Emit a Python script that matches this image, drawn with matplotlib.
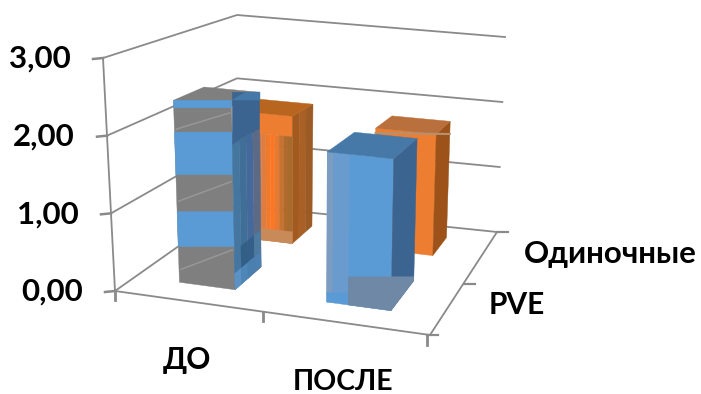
import matplotlib
matplotlib.use("Agg")
import matplotlib.pyplot as plt
import numpy as np
from matplotlib.patches import Polygon

plt.rcParams['font.family'] = ['Lato', 'DejaVu Sans']

categories = ['ДО', 'ПОСЛЕ']
series = ['PVE', 'Одиночные']
pve_values = [2.4, 1.93]
single_values = [1.85, 1.75]
value_ticks = [0, 1, 2, 3]
value_labels = ['0,00', '1,00', '2,00', '3,00']

# corners of the plot box: floor and ceiling, in figure pixels
FLOOR = {'fl': (115, 291), 'fr': (430, 335), 'bl': (237, 205), 'br': (497, 232)}
CEIL = {'fl': (103, 58), 'fr': (437, 88), 'bl': (237, 15), 'br': (505, 37)}
VMAX = 3.0

GRID = '#8a8a8a'
BLUE = '#5b9bd5'
BLUE_DARK = '#3b6590'
BLUE_TOP = '#4679a8'
ORANGE = '#ed7d31'
ORANGE_DARK = '#9c5219'
ORANGE_TOP = '#b8651f'
GRAY = '#7f7f7f'


def pt(u, v, val):
    # trilinear position inside the box
    t = val / VMAX
    res = []
    for k in range(2):
        lo = (1 - v) * ((1 - u) * FLOOR['fl'][k] + u * FLOOR['fr'][k]) + v * ((1 - u) * FLOOR['bl'][k] + u * FLOOR['br'][k])
        hi = (1 - v) * ((1 - u) * CEIL['fl'][k] + u * CEIL['fr'][k]) + v * ((1 - u) * CEIL['bl'][k] + u * CEIL['br'][k])
        res.append((1 - t) * lo + t * hi)
    return tuple(res)


def face(ax, pts, color, alpha=1.0, z=3):
    ax.add_patch(Polygon(pts, closed=True, facecolor=color, edgecolor=color, lw=0.3, alpha=alpha, zorder=z))


def front_band(ax, u0, u1, v, a, b, color, z=3, flat=True, alpha=1.0):
    # horizontal slice of a front face between two values
    p0, p1 = pt(u0, v, a), pt(u1, v, a)
    p2, p3 = pt(u1, v, b), pt(u0, v, b)
    if flat:
        p1 = (p1[0], p0[1])
        p2 = (p2[0], p3[1])
    face(ax, [p0, p1, p2, p3], color, alpha, z)


def side_strips(ax, u, v0, v1, a, b, colors, z=3):
    # side face built out of vertical strips of different tone
    n = len(colors)
    for i, c in enumerate(colors):
        va = v0 + (v1 - v0) * i / n
        vb = v0 + (v1 - v0) * (i + 1) / n
        face(ax, [pt(u, va, a), pt(u, vb, a), pt(u, vb, b), pt(u, va, b)], c, 1.0, z)


fig = plt.figure(figsize=(7.01, 3.94), dpi=100)
ax = fig.add_axes([0, 0, 1, 1])
ax.set_xlim(0, 701)
ax.set_ylim(394, 0)
ax.axis('off')

# walls and floor
for val in value_ticks:
    a, b, c = pt(0, 0, val), pt(0, 1, val), pt(1, 1, val)
    ax.plot([a[0], b[0], c[0]], [a[1], b[1], c[1]], color=GRID, lw=1.3, zorder=1, solid_joinstyle='miter')
    ax.plot([a[0] - 10, a[0]], [a[1] + 1, a[1]], color=GRID, lw=1.8, zorder=1)
    ax.text(a[0] - 32, a[1] + 1, value_labels[val], ha='right', va='center',
            fontsize=22.5, fontweight='bold', color='black')

p0, p3 = pt(0, 0, 0), pt(0, 0, 3)
ax.plot([p0[0], p3[0]], [p0[1], p3[1]], color=GRID, lw=1.3, zorder=1)
ax.plot([p0[0], p0[0]], [p0[1], p0[1] + 9], color=GRID, lw=2, zorder=1)

fr, br = pt(1, 0, 0), pt(1, 1, 0)
ax.plot([p0[0], fr[0]], [p0[1], fr[1]], color=GRID, lw=1.3, zorder=1)
ax.plot([fr[0], br[0]], [fr[1], br[1]], color=GRID, lw=1.3, zorder=1)
ax.plot([fr[0] - 3, fr[0] - 3], [fr[1], fr[1] + 10], color=GRID, lw=2, zorder=1)
ax.plot([fr[0] - 3, fr[0] + 8], [fr[1], fr[1]], color=GRID, lw=1.6, zorder=1)
ax.plot([br[0], br[0] + 11], [br[1], br[1]], color=GRID, lw=1.6, zorder=1)
mid = pt(0.47, 0, 0)
ax.plot([mid[0], mid[0]], [mid[1], mid[1] + 9], color=GRID, lw=2, zorder=1)
dep = pt(1, 0.5, 0)
ax.plot([dep[0], dep[0] + 11], [dep[1], dep[1]], color=GRID, lw=1.6, zorder=1)

# back row, before
h = single_values[0]
u0, u1, v0, v1 = 0.14, 0.34, 0.68, 0.87
face(ax, [pt(u0, v0, 1.55), pt(u1, v0, 1.55), pt(u1, v0, h), pt(u0, v0, h)], ORANGE, z=2)
side_strips(ax, u1, v0, v1, 0, h, ['#a35a1f', '#a86026', '#9c5a24'], z=2)
face(ax, [pt(u0, v0, h), pt(u1, v0, h), pt(u1, v1, h), pt(u0, v1, h)], ORANGE_TOP, z=2)
strip_cols = ['#c07a55', '#dd7d42', '#f07a2c', '#fb7724', '#e67a32', '#c8722f', '#b06a2b', '#a96a2e']
for i, c in enumerate(strip_cols):
    ua = 0.215 + (u1 - 0.215) * i / len(strip_cols)
    ub = 0.215 + (u1 - 0.215) * (i + 1) / len(strip_cols)
    front_band(ax, ua, ub, v0, 0, 1.55, c, z=2, flat=False)
front_band(ax, 0.215, u1, v0, 0, 0.17, '#c98a5a', z=2, flat=False)

# back row, after
h = single_values[1]
u0, u1, v0, v1 = 0.62, 0.835, 0.72, 0.90
face(ax, [pt(u0, v0, 0), pt(u1, v0, 0), pt(u1, v0, h), pt(u0, v0, h)], ORANGE, z=2)
face(ax, [pt(u1, v0, 0), pt(u1, v1, 0), pt(u1, v1, h), pt(u1, v0, h)], ORANGE_DARK, z=2)
face(ax, [pt(u0, v0, h), pt(u1, v0, h), pt(u1, v1, h), pt(u0, v1, h)], '#b9703c', z=2)
seam_l, seam_r = pt(u0, v0, h - 0.07), pt(u1, v1, h - 0.2)
ax.plot([seam_l[0], seam_r[0]], [seam_l[1], seam_l[1] + 1], color='#b5916f', lw=1.5, zorder=2)

# front row, before
h = pve_values[0]
u0, u1, v0, v1 = 0.143, 0.325, 0.17, 0.42
face(ax, [pt(u0, v0, 0), pt(u1, v0, 0), pt(u1, v0, h), pt(u0, v0, h)], GRAY, z=3)
face(ax, [pt(u0, v0, h), pt(u1, v0, h), pt(u1, v1, h), pt(u0, v1, h)], GRAY, z=3)
for a, b in [(0.47, 0.93), (1.42, 1.98), (2.3, 2.4)]:
    front_band(ax, u0, u1, v0, a, b, BLUE, z=4)
for a, b in [(0.17, 0.52), (1.07, 1.41), (2.02, 2.31)]:
    s, e = pt(u0, v0, a), pt(u1, v0, b)
    ax.plot([s[0] + 2, e[0] - 2], [s[1], e[1]], color='#979797', lw=1.1, zorder=4)
side_strips(ax, u1, v0, v1, 0, 1.9, ['#44769f', '#3f6f96', '#44699a', '#5d6a85'], z=4)
side_strips(ax, u1, v0, v1, 0, 0.22, ['#5a92c6', '#4f86b8', '#4a80b0', '#4d7fb0'], z=4)
side_strips(ax, u1, v0, v1, 0.22, 0.5, ['#44769f', '#315f85', '#355f88', '#4d7ba0'], z=4)
s0, s1 = pt(u1, v0, 1.9), pt(u1, v1, 1.9)
top_y = pt(u1, v1, h)[1]
face(ax, [s0, s1, (s1[0], top_y), (s0[0], top_y)], BLUE_DARK, z=4)
face(ax, [(s0[0], top_y + 8), (s1[0], top_y + 8), (s1[0], top_y), (s0[0] + 14, top_y)], BLUE_TOP, z=4)

# front row, after
h = pve_values[1]
u0, u1, v0, v1 = 0.625, 0.835, 0.17, 0.47
face(ax, [pt(u0, v0, 0), pt(u1, v0, 0), pt(u1, v0, h), pt(u0, v0, h)], BLUE, z=4)
face(ax, [pt(u0, v0, 0.1), pt(0.645, v0, 0.1), pt(0.645, v0, h), pt(u0, v0, h)], '#7c9cc0', z=4)
face(ax, [pt(0.645, v0, 0.1), pt(0.695, v0, 0.1), pt(0.695, v0, h), pt(0.645, v0, h)], '#6a9bcf', z=4)
front_band(ax, u0, 0.695, v0, 0, 0.12, BLUE, z=4)
face(ax, [pt(u1, v0, 0), pt(u1, v1, 0), pt(u1, v1, h), pt(u1, v0, h)], BLUE_DARK, z=4)
face(ax, [pt(u0, v0, h), pt(u1, v0, h), pt(u1, v1, h), pt(u0, v1, h)], BLUE_TOP, z=4)
g0, g1, g2 = pt(0.695, v0, 0), pt(u1, v0, 0), pt(u1, v1, 0)
gy = pt(0.695, v0, 0.36)[1]
face(ax, [g0, g1, g2, (g2[0], gy), (g0[0], gy)], '#6f88a6', z=5)

# category and series names
ax.text(187, 360, categories[0], ha='center', va='center', fontsize=21.5, fontweight='bold')
ax.text(343, 382, categories[1], ha='center', va='center', fontsize=20.5, fontweight='bold')
ax.text(489, 305, series[0], ha='left', va='center', fontsize=21.5, fontweight='bold')
ax.text(524, 254, series[1], ha='left', va='center', fontsize=22.5, fontweight='bold')

fig.savefig('out.png', dpi=100)
